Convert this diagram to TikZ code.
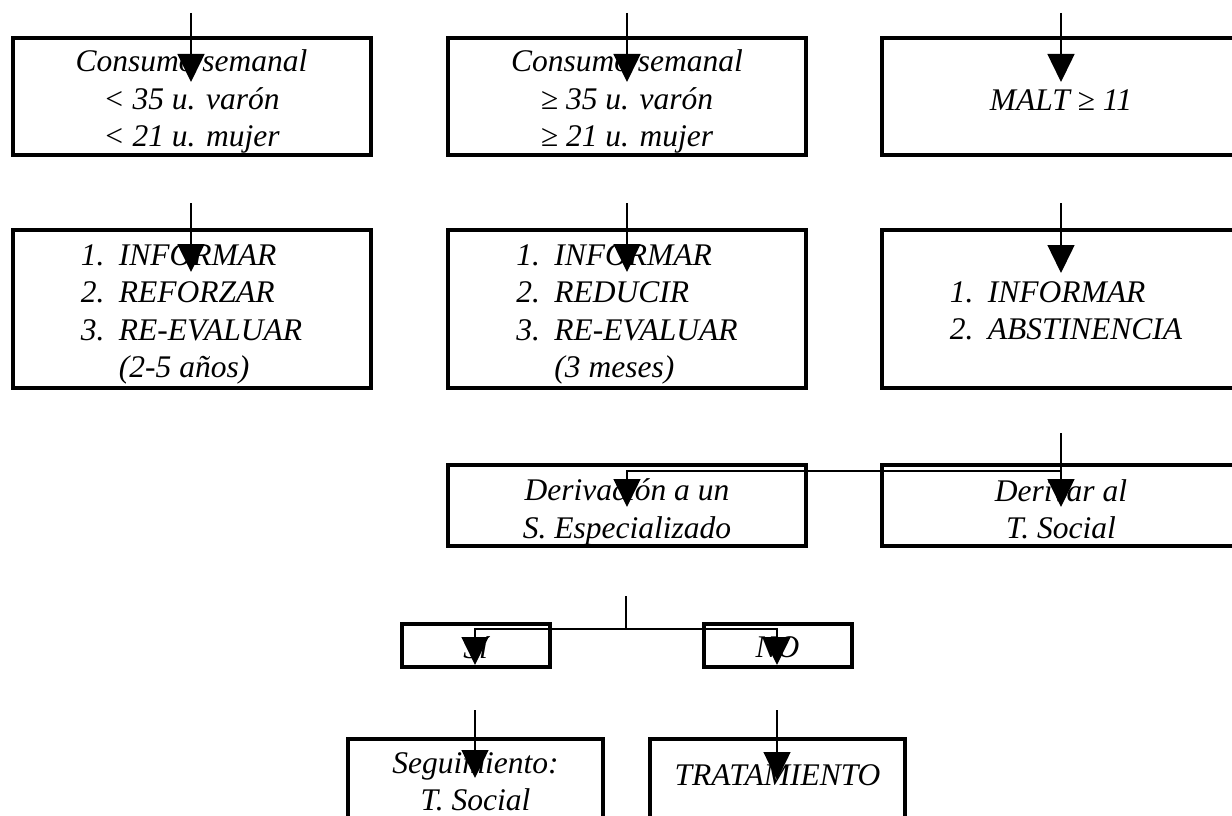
\documentclass[tikz,border=0pt]{standalone}
\usepackage{fontspec}
\setmainfont{Liberation Serif}
\usetikzlibrary{arrows.meta}
\tikzset{
    flowBox/.style={
        draw,
        line width=4pt,
        inner sep=0pt
    },
    wideBox/.style={flowBox, minimum width=358pt},
    answerBox/.style={flowBox, minimum width=148pt, minimum height=43pt},
    endBox/.style={flowBox, minimum width=255pt, minimum height=86pt},
    boxText/.style={inner sep=0pt, align=center, font=\fontsize{31.5}{37.2}\selectfont\itshape},
    listText/.style={boxText, align=left},
    flowLine/.style={line width=1.5pt},
    flowArrow/.style={flowLine, -{Triangle[width=27pt,length=28pt]}},
}
\newcommand{\listItem}[2]{\makebox[38pt][l]{#1}#2}

\begin{document}
\begin{tikzpicture}[x=1pt, y=-1pt]
    \useasboundingbox (0,0) rectangle (1232,816);
    \clip (0,0) rectangle (1232,816);

    % Row 1 - weekly consumption / MALT
    \node[wideBox, minimum height=117pt] (consLow) at (191.5,96.5) {};
    \node[boxText] (consLowText) at (191.5,101.5) {Consumo semanal\\< 35 u. varón\\< 21 u. mujer};
    \node[wideBox, minimum height=117pt] (consHigh) at (627,96.5) {};
    \node[boxText] (consHighText) at (627,101.5) {Consumo semanal\\≥ 35 u. varón\\≥ 21 u. mujer};
    \node[wideBox, minimum height=117pt] (malt) at (1061,96.5) {};
    \node[boxText] (maltText) at (1061,100.5) {MALT ≥ 11};

    % Row 2 - actions
    \node[wideBox, minimum height=158pt] (actLow) at (191.5,309) {};
    \node[listText] (actLowText) at (191.5,314.5)
        {\listItem{1.}{INFORMAR}\\\listItem{2.}{REFORZAR}\\\listItem{3.}{RE-EVALUAR}\\\listItem{}{(2-5 años)}};
    \node[wideBox, minimum height=158pt] (actHigh) at (627,309) {};
    \node[listText] (actHighText) at (627,314.5)
        {\listItem{1.}{INFORMAR}\\\listItem{2.}{REDUCIR}\\\listItem{3.}{RE-EVALUAR}\\\listItem{}{(3 meses)}};
    \node[wideBox, minimum height=158pt] (actMalt) at (1061,309) {};
    \node[listText] (actMaltText) at (1066,311)
        {\listItem{1.}{INFORMAR}\\\listItem{2.}{ABSTINENCIA}};

    % Row 3 - referrals
    \node[wideBox, minimum height=81pt] (deriv) at (627,505.5) {};
    \node[boxText] (derivText) at (627,512) {Derivación a un\\S. Especializado};
    \node[wideBox, minimum height=81pt] (social) at (1061,505.5) {};
    \node[boxText] (socialText) at (1061,509) {Derivar al\\T. Social};

    % Row 4 - answer
    \node[answerBox] (yes) at (475.5,645.5) {};
    \node[boxText] (yesText) at (475.5,647.5) {Sí};
    \node[answerBox] (no) at (777.5,645.5) {};
    \node[boxText] (noText) at (777.5,647.5) {NO};

    % Row 5 - outcome
    \node[endBox] (follow) at (475.5,782) {};
    \node[boxText] (followText) at (475.5,782) {Seguimiento:\\T. Social};
    \node[endBox] (treat) at (777.5,782) {};
    \node[boxText] (treatText) at (777.5,775.5) {TRATAMIENTO};

    % Connector points
    \coordinate (consLowIn) at (191,13);   \coordinate (consLowTip) at (191,82);
    \coordinate (consHighIn) at (627,13);  \coordinate (consHighTip) at (627,82);
    \coordinate (maltIn) at (1061,13);     \coordinate (maltTip) at (1061,82);
    \coordinate (actLowIn) at (191,203);   \coordinate (actLowTip) at (191,272);
    \coordinate (actHighIn) at (627,203);  \coordinate (actHighTip) at (627,272);
    \coordinate (actMaltIn) at (1061,203); \coordinate (actMaltTip) at (1061,273);
    \coordinate (socialIn) at (1061,433);  \coordinate (socialTip) at (1061,507);
    \coordinate (socialSplit) at (1061,471);
    \coordinate (derivTip) at (627,507);
    \coordinate (answerIn) at (626,596);   \coordinate (answerSplit) at (626,629);
    \coordinate (yesTip) at (475,665);     \coordinate (noTip) at (777,665);
    \coordinate (followIn) at (475,710);   \coordinate (followTip) at (475,778);
    \coordinate (treatIn) at (777,710);    \coordinate (treatTip) at (777,780);

    % Arrows
    \draw[flowArrow] (consLowIn) -- (consLowTip);
    \draw[flowArrow] (consHighIn) -- (consHighTip);
    \draw[flowArrow] (maltIn) -- (maltTip);
    \draw[flowArrow] (actLowIn) -- (actLowTip);
    \draw[flowArrow] (actHighIn) -- (actHighTip);
    \draw[flowArrow] (actMaltIn) -- (actMaltTip);
    \draw[flowArrow] (socialIn) -- (socialTip);
    \draw[flowArrow] (socialSplit) -| (derivTip);
    \draw[flowLine] (answerIn) -- (answerSplit);
    \draw[flowArrow] (answerSplit) -| (yesTip);
    \draw[flowArrow] (answerSplit) -| (noTip);
    \draw[flowArrow] (followIn) -- (followTip);
    \draw[flowArrow] (treatIn) -- (treatTip);

\end{tikzpicture}
\end{document}
